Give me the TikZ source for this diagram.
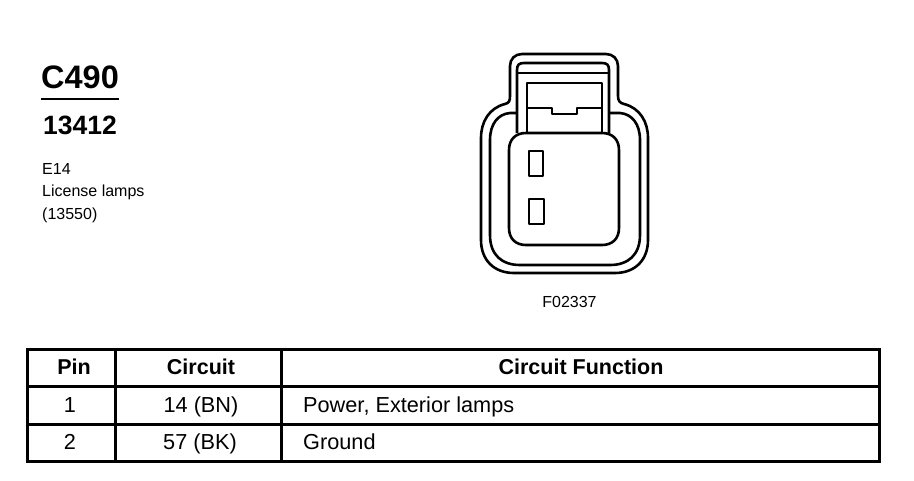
\documentclass[tikz,border=0pt]{standalone}
\usepackage{fontspec}
\setmainfont{Liberation Sans}
\tikzset{
  txt/.style={inner sep=0pt,anchor=base west,text=black},
  ctr/.style={inner sep=0pt,anchor=base,text=black},
  hdr/.style={ctr,font=\fontsize{21.5}{24}\selectfont\bfseries},
  cell/.style={ctr,font=\fontsize{21.7}{24}\selectfont},
  cellw/.style={txt,font=\fontsize{21.7}{24}\selectfont},
  small/.style={txt,font=\fontsize{16}{18}\selectfont},
  conn/.style={line width=2.6pt,line join=round,draw=black},
  grid/.style={line width=3pt,draw=black}
}
\begin{document}
\begin{tikzpicture}[x=1pt,y=-1pt]
\useasboundingbox (0,0) rectangle (914,480);
% heading
\node[txt,font=\fontsize{32.5}{34}\selectfont\bfseries] (title) at (41,88) {C490};
\draw[line width=1.8pt] (41,99) -- (119,99);
\node[txt,font=\fontsize{26.5}{28}\selectfont\bfseries] (part) at (43,134) {13412};
\node[small] (a) at (42,174) {E14};
\node[small] (b) at (42,196) {License lamps};
\node[small] (c) at (42,219) {(13550)};
% connector body
\draw[conn] (510,96) -- (510,66) .. controls (510,59) and (515,54) .. (522,54) -- (606,54)
  .. controls (613,54) and (618,59) .. (618,66) -- (618,96)
  .. controls (618,101) and (620,103) .. (624,104)
  .. controls (640,108) and (648,122) .. (648,138) -- (648,240)
  .. controls (648,260) and (635,273) .. (615,273) -- (514,273)
  .. controls (494,273) and (481,260) .. (481,240) -- (481,138)
  .. controls (481,122) and (489,108) .. (505,104)
  .. controls (509,103) and (510,101) .. (510,96) -- cycle;
% inner outline
\draw[conn] (517,113) -- (510,113) .. controls (498,114) and (490,124) .. (490,140)
  -- (490,235) .. controls (490,255) and (502,265) .. (520,265) -- (610,265)
  .. controls (628,265) and (640,255) .. (640,235) -- (640,140)
  .. controls (640,124) and (632,114) .. (620,113) -- (609,113);
% tab
\draw[conn] (517,133) -- (517,70) .. controls (517,65) and (519,63) .. (524,63) -- (602,63)
  .. controls (607,63) and (609,65) .. (609,70) -- (609,133);
\draw[conn] (517,73) -- (609,73);
\draw[conn] (527,133) -- (527,83) -- (602,83) -- (602,133);
\draw[conn] (527,108) -- (552,108) -- (552,114) -- (577,114) -- (577,108) -- (602,108);
% face
\draw[conn,fill=white] (509,150) .. controls (509,139) and (516,133) .. (526,133) -- (602,133)
  .. controls (612,133) and (619,139) .. (619,150) -- (619,228)
  .. controls (619,239) and (612,245) .. (602,245) -- (526,245)
  .. controls (516,245) and (509,239) .. (509,228) -- cycle;
\draw[conn] (529,151) rectangle (543,176);
\draw[conn] (529,199) rectangle (544,224);
\node[small,anchor=base] (fig) at (569.5,307) {F02337};
% table
\draw[grid] (27,349) rectangle (879,461);
\draw[grid] (27,386) -- (879,386);
\draw[grid] (27,424) -- (879,424);
\draw[grid] (115,349) -- (115,461);
\draw[grid] (281,349) -- (281,461);
\node[hdr] (h1) at (74,374) {Pin};
\node[hdr] (h2) at (201,374) {Circuit};
\node[hdr] (h3) at (581,374) {Circuit Function};
\node[cell] (p1) at (70,412) {1};
\node[cell] (c1) at (201,412) {14 (BN)};
\node[cellw] (f1) at (303,412) {Power, Exterior lamps};
\node[cell] (p2) at (70,449) {2};
\node[cell] (c2) at (200,449) {57 (BK)};
\node[cellw] (f2) at (303,449) {Ground};
\end{tikzpicture}
\end{document}
